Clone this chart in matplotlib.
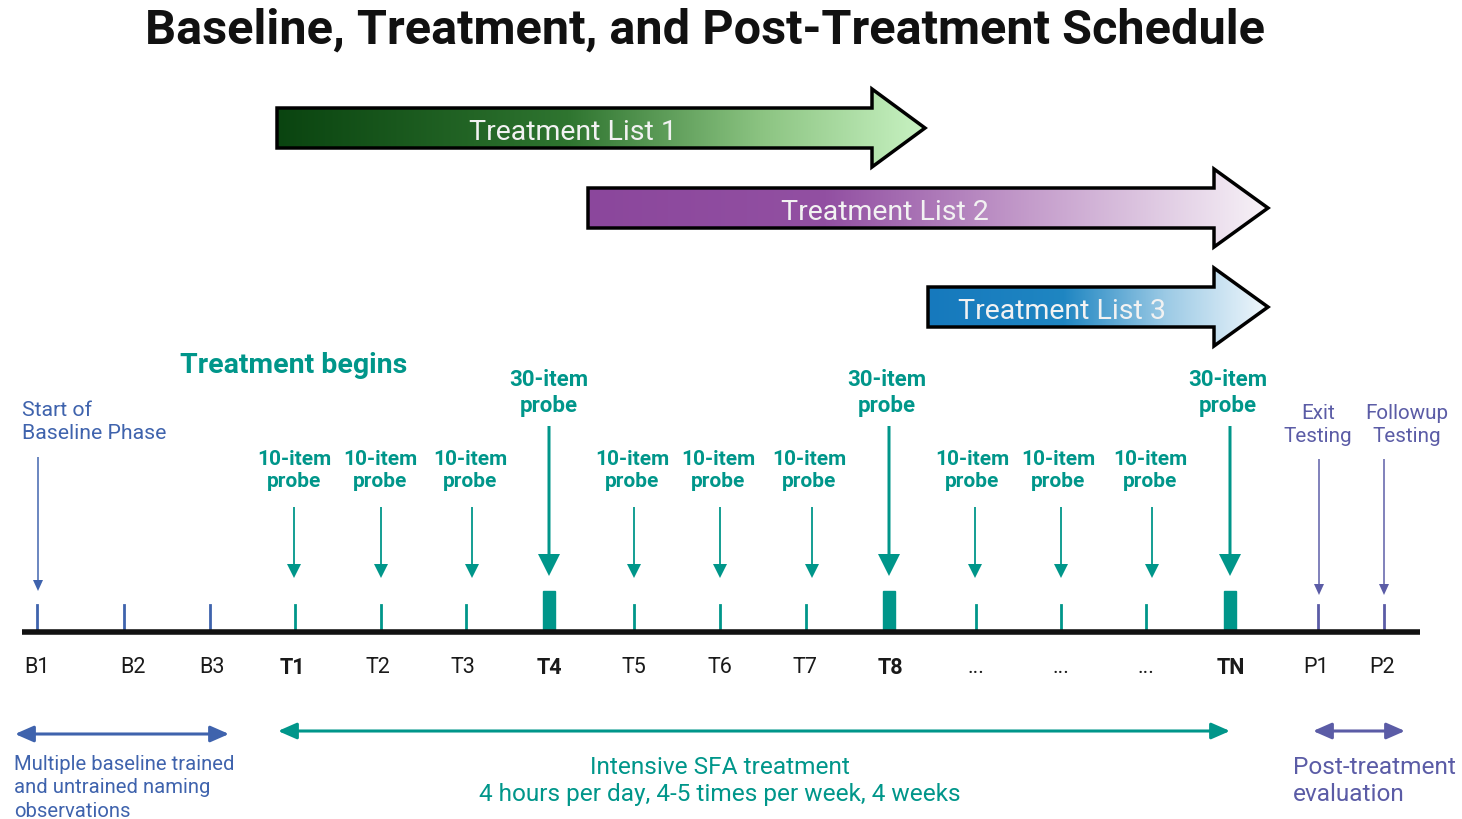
import matplotlib.pyplot as plt
from matplotlib.patches import Polygon, FancyArrow, FancyArrowPatch, Rectangle
from matplotlib.colors import LinearSegmentedColormap
import numpy as np

plt.rcParams['font.family'] = ['Roboto', 'DejaVu Sans']

TEAL = '#00968a'
BLUE = '#3f63ad'
PURPLE = '#5b5ca6'

# timeline
labels = ['B1', 'B2', 'B3', 'T1', 'T2', 'T3', 'T4', 'T5', 'T6', 'T7', 'T8',
          '...', '...', '...', 'TN', 'P1', 'P2']
tick_x = [37, 124, 210, 295, 381, 466, 549, 634, 720, 806, 889,
          976, 1061, 1146, 1230, 1318, 1384]
label_x = [37, 133, 212, 292, 378, 463, 549, 634, 720, 805, 890,
           976, 1061, 1146, 1231, 1316, 1382]
phase = ['B'] * 3 + ['T'] * 12 + ['P'] * 2
bold_labels = ['T1', 'T4', 'T8', 'TN']

# probes given at treatment sessions
probe_items = [10, 10, 10, 30, 10, 10, 10, 30, 10, 10, 10, 30]
probe_x = [294, 381, 472, 549, 634, 720, 812, 889, 975, 1061, 1152, 1230]
probe_text_x = [294, 380, 470, 549, 632, 718, 809, 887, 972, 1058, 1150, 1228]

# treatment lists: start of body, neck, tip, centre y
lists = ['Treatment List 1', 'Treatment List 2', 'Treatment List 3']
list_start = [277, 588, 928]
list_neck = [872, 1214, 1214]
list_tip = [925, 1268, 1268]
list_y = [129, 209, 308]
list_text_x = [573, 885, 1062]
list_colors = [
    [(0, '#0a4410'), (0.45, '#2f7530'), (0.75, '#8cc482'), (1, '#c8f2c2')],
    [(0, '#8b479c'), (0.35, '#9250a2'), (0.65, '#c49ccb'), (1, '#f7f2f7')],
    [(0, '#1679bd'), (0.4, '#1f86c2'), (0.7, '#9ccae5'), (1, '#f0f7fc')],
]

fig = plt.figure(figsize=(14.62, 8.2), dpi=100)
ax = fig.add_axes([0, 0, 1, 1])
ax.set_xlim(0, 1462)
ax.set_ylim(820, 0)
ax.axis('off')

ax.text(705, 31, 'Baseline, Treatment, and Post-Treatment Schedule',
        ha='center', va='center', fontsize=35, fontweight='bold', color='#111111')

# gradient arrows
for name, x0, xn, xt, yc, cols, tx in zip(lists, list_start, list_neck, list_tip,
                                           list_y, list_colors, list_text_x):
    bh, hh = 20, 39
    verts = [(x0, yc - bh), (xn, yc - bh), (xn, yc - hh), (xt, yc),
             (xn, yc + hh), (xn, yc + bh), (x0, yc + bh)]
    poly = Polygon(verts, closed=True, facecolor='none', edgecolor='black',
                   lw=2.5, zorder=3, joinstyle='miter')
    ax.add_patch(poly)
    cmap = LinearSegmentedColormap.from_list('g', cols)
    grad = np.linspace(0, 1, 256).reshape(1, -1)
    im = ax.imshow(grad, cmap=cmap, aspect='auto',
                   extent=(x0, xt, yc + hh, yc - hh), zorder=2)
    im.set_clip_path(poly)
    ax.text(tx, yc + 4, name, ha='center', va='center', fontsize=20.5,
            color='#f2f2f2', zorder=4)

# axis line
ax.plot([22, 1420], [633, 633], color='#111111', lw=4, solid_capstyle='butt', zorder=3)

for lab, x, lx, ph in zip(labels, tick_x, label_x, phase):
    col = {'B': BLUE, 'T': TEAL, 'P': PURPLE}[ph]
    if lab in ['T4', 'T8', 'TN']:
        ax.add_patch(Rectangle((x - 6, 592), 12, 41, color=col, zorder=2))
    else:
        ax.plot([x, x], [606, 633], color=col, lw=2, zorder=2)
    ax.text(lx, 668, lab, ha='center', va='center', fontsize=15.5, color='#1a1a1a',
            fontweight='bold' if lab in bold_labels else 'normal')

# probe arrows and labels
for n, px, tx in zip(probe_items, probe_x, probe_text_x):
    if n == 30:
        ax.add_patch(FancyArrow(px, 427, 0, 150, width=3, head_width=22, head_length=22,
                                length_includes_head=True, color=TEAL, lw=0))
        ax.text(tx, 393, f'{n}-item\nprobe', ha='center', va='center', fontsize=16,
                fontweight='bold', color=TEAL, linespacing=1.2)
    else:
        ax.add_patch(FancyArrow(px, 508, 0, 71, width=1.8, head_width=14, head_length=14,
                                length_includes_head=True, color=TEAL, lw=0))
        ax.text(tx, 471, f'{n}-item\nprobe', ha='center', va='center', fontsize=15,
                fontweight='bold', color=TEAL, linespacing=1.2)

ax.text(294, 366, 'Treatment begins', ha='center', va='center', fontsize=20.5,
        fontweight='bold', color=TEAL)

# baseline / post arrows
ax.add_patch(FancyArrow(38, 458, 0, 134, width=1.5, head_width=10, head_length=11,
                        length_includes_head=True, color=BLUE, lw=0))
ax.text(22, 422, 'Start of\nBaseline Phase', ha='left', va='center', fontsize=15.3,
        color=BLUE, linespacing=1.25)
for px in [1319, 1384]:
    ax.add_patch(FancyArrow(px, 460, 0, 136, width=1.5, head_width=10, head_length=11,
                            length_includes_head=True, color=PURPLE, lw=0))
ax.text(1318, 425, 'Exit\nTesting', ha='center', va='center', fontsize=14.9,
        color=PURPLE, linespacing=1.3)
ax.text(1407, 425, 'Followup\nTesting', ha='center', va='center', fontsize=14.9,
        color=PURPLE, linespacing=1.3)

# phase spans
spans = [(15, 229, 735, BLUE), (278, 1230, 732, TEAL), (1313, 1405, 732, PURPLE)]
for x0, x1, y, col in spans:
    ax.add_patch(FancyArrowPatch((x0, y), (x1, y), arrowstyle='<|-|>,head_length=0.8,head_width=0.35',
                                 mutation_scale=14, color=col, lw=2.2, shrinkA=0, shrinkB=0))

ax.text(14, 788, 'Multiple baseline trained\nand untrained naming\nobservations', ha='left',
        va='center', fontsize=14.6, color=BLUE, linespacing=1.3)
ax.text(720, 781, 'Intensive SFA treatment\n4 hours per day, 4-5 times per week, 4 weeks',
        ha='center', va='center', fontsize=17.6, color=TEAL, linespacing=1.25)
ax.text(1293, 781, 'Post-treatment\nevaluation', ha='left', va='center', fontsize=17.6,
        color=PURPLE, linespacing=1.25)

fig.savefig('out.png', dpi=100)
